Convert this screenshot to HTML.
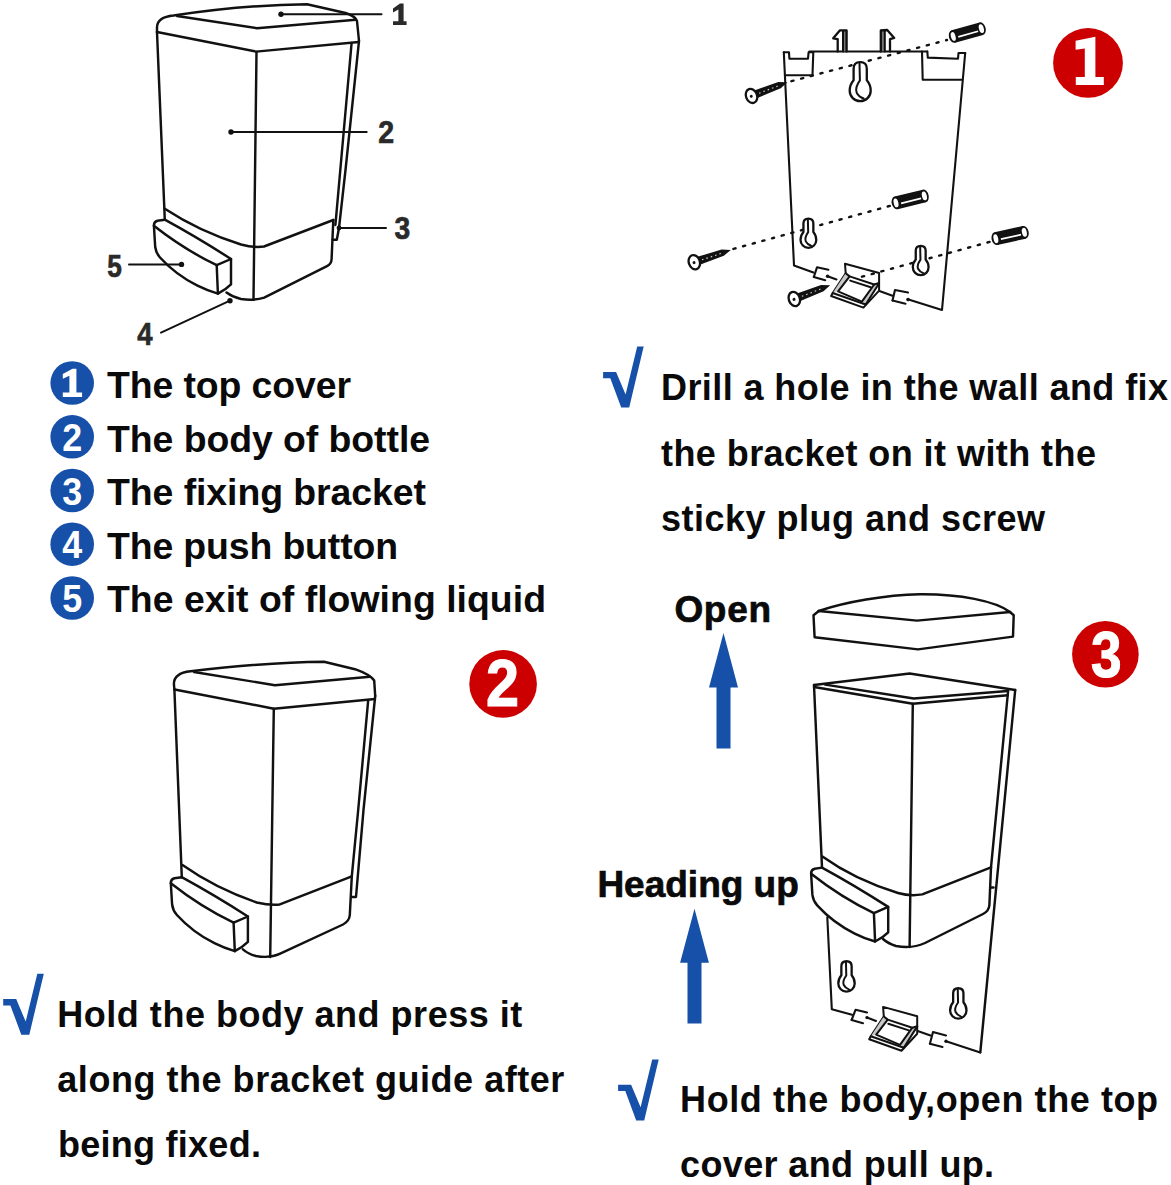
<!DOCTYPE html>
<html><head><meta charset="utf-8">
<style>
html,body{margin:0;padding:0;background:#fff;}
body{width:1171px;height:1185px;overflow:hidden;position:relative;font-family:"Liberation Sans",sans-serif;}
svg{position:absolute;left:0;top:0;}
.t{font-family:"Liberation Sans",sans-serif;font-weight:bold;fill:#0a0a0a;}
.lb{font-family:"Liberation Sans",sans-serif;font-weight:bold;fill:#2a2a2a;stroke:#2a2a2a;stroke-width:0.7;}
.ln{fill:none;stroke:#111;stroke-width:2.45;stroke-linecap:round;stroke-linejoin:round;}
.ln2{fill:none;stroke:#111;stroke-width:2.1;stroke-linecap:round;stroke-linejoin:round;}
.bl{fill:#1650a8;}
.rd{fill:#cc0000;}
</style></head><body>
<svg width="1171" height="1185" viewBox="0 0 1171 1185">
<rect width="1171" height="1185" fill="#fff"/>

<defs>
<g id="kh"><path d="M-6.6,-22 Q-6.6,-28.5 0,-28.5 Q6.6,-28.5 6.6,-22 L6.6,-10.5 Q10.5,-6 10.5,0 A10.5,10.5 0 0 1 -10.5,0 Q-10.5,-6 -6.6,-10.5 Z" fill="#fff" stroke="#111" stroke-width="2.3" stroke-linejoin="round" vector-effect="non-scaling-stroke"/><path vector-effect="non-scaling-stroke" d="M-0.7,-27 L-0.3,-10.3 Q-5.5,-3 -3.5,2 Q-1.5,6 3.5,7.8" fill="none" stroke="#111" stroke-width="2" stroke-linecap="round"/></g>
<g id="screw"><polygon points="3,-4.1 30,-3.4 38.5,0 30,3.4 3,4.1" fill="#111"/><line x1="8" y1="0.2" x2="30" y2="0.2" stroke="#ccc" stroke-width="1.1" stroke-dasharray="1.6 3"/><ellipse cx="0" cy="0" rx="5.5" ry="7.3" fill="#fff" stroke="#111" stroke-width="2.3"/><circle cx="-0.4" cy="0.3" r="1.5" fill="#111"/></g>
<g id="plug"><rect x="-14.5" y="-6.5" width="29" height="13" fill="#111"/><ellipse cx="-14.5" cy="0" rx="4.4" ry="6.5" fill="#111"/><ellipse cx="14.5" cy="0" rx="4.4" ry="6.5" fill="#111"/><ellipse cx="-14.6" cy="0" rx="2.3" ry="4.5" fill="#fff"/><ellipse cx="14.6" cy="0" rx="2.4" ry="4.5" fill="#fff"/><line x1="-9.8" y1="1.6" x2="10.8" y2="1.6" stroke="#fff" stroke-width="1.8"/></g>
<g id="clip" fill="none" stroke="#111" stroke-width="2" stroke-linecap="round" stroke-linejoin="round">
<path d="M883.1,1006.9 L917.2,1016.2 L917.2,1033.8 L901.5,1050.8 L869.2,1039.2 L870.8,1036.2 L883.8,1016.5 Z" fill="#fff"/>
<path d="M883.8,1016.5 L887.7,1019.6 L876.2,1034.6 L870.8,1036.2 Z" fill="#c8c8c8" stroke="none"/>
<path d="M917.2,1026.2 L912.3,1027.7 L900,1044.8 L903.8,1047.7 Z" fill="#c8c8c8" stroke="none"/>
<path d="M883.8,1016.5 L887.7,1019.6 L912.3,1027.7 L917.2,1026.2"/>
<path d="M887.7,1019.6 L876.2,1034.6 L900,1044.8 L912.3,1027.7"/>
<path d="M870.8,1036.2 L903.8,1047.7 L917.2,1026.4"/>
<path d="M888.3,1023.8 L908.8,1030.4"/>
</g>
<g id="btn" fill="none" stroke="#111" stroke-linecap="round" stroke-linejoin="round">
<path d="M164.8,219.7 L157.5,220.8 Q153.9,221.8 153.9,225.5 L155.2,247 Q156,253 160,257.5 Q176,275 197.5,285.7 Q207,290.5 217.9,293.6 L216.7,265.2"/>
<path d="M164.8,219.7 Q197.1,237.3 231,259 L231,284.4 Q226,289.5 217.9,293.6"/>
<path d="M153.9,225.8 Q184,249.5 216.7,265.2 L231,259"/>
</g>
</defs>
<!-- TEXT -->
<g id="text">
<text class="t" x="107" y="397.8" font-size="37.4" textLength="244" lengthAdjust="spacing">The top cover</text>
<text class="t" x="107" y="451.6" font-size="37.4" textLength="323" lengthAdjust="spacing">The body of bottle</text>
<text class="t" x="107" y="505.2" font-size="37.4" textLength="319" lengthAdjust="spacing">The fixing bracket</text>
<text class="t" x="107" y="558.8" font-size="37.4" textLength="291" lengthAdjust="spacing">The push button</text>
<text class="t" x="107" y="612.3" font-size="37.4" textLength="439" lengthAdjust="spacing">The exit of flowing liquid</text>

<text class="t" x="661" y="400" font-size="36" textLength="507" lengthAdjust="spacing">Drill a hole in the wall and fix</text>
<text class="t" x="661" y="465.5" font-size="36" textLength="435" lengthAdjust="spacing">the bracket on it with the</text>
<text class="t" x="661" y="530.5" font-size="36" textLength="384" lengthAdjust="spacing">sticky plug and screw</text>

<text class="t" stroke="#0a0a0a" stroke-width="0.7" x="674.4" y="621.6" font-size="37" textLength="96.6" lengthAdjust="spacing">Open</text>
<text class="t" stroke="#0a0a0a" stroke-width="0.7" x="597.4" y="897" font-size="37" textLength="201.4" lengthAdjust="spacing">Heading up</text>

<text class="t" x="57.3" y="1027.3" font-size="36" textLength="465" lengthAdjust="spacing">Hold the body and press it</text>
<text class="t" x="57.3" y="1092.3" font-size="36" textLength="507" lengthAdjust="spacing">along the bracket guide after</text>
<text class="t" x="57.9" y="1156.8" font-size="36" textLength="203" lengthAdjust="spacing">being fixed.</text>

<text class="t" x="680.1" y="1111.9" font-size="36" textLength="478" lengthAdjust="spacing">Hold the body,open the top</text>
<text class="t" x="680.1" y="1176.9" font-size="36" textLength="314" lengthAdjust="spacing">cover and pull up.</text>
</g>

<!-- BLUE NUMBER BULLETS -->
<g id="bullets">
<circle class="bl" cx="72.2" cy="383" r="21.8"/>
<polygon fill="#fff" points="62.8,374 72.5,368.7 76.4,368.7 76.4,392.4 82.1,392.4 82.1,397.1 62.8,397.1 62.8,392.4 69.4,392.4 69.4,375.7 62.8,378.7"/>
<circle class="bl" cx="72.2" cy="436.8" r="21.8"/>
<text font-size="39" text-anchor="middle" font-family="Liberation Sans" font-weight="bold" fill="#fff" transform="translate(72.2 450.8) scale(0.92 1)">2</text>
<circle class="bl" cx="72.2" cy="490.5" r="21.8"/>
<text font-size="39" text-anchor="middle" font-family="Liberation Sans" font-weight="bold" fill="#fff" transform="translate(72.2 504.5) scale(0.92 1)">3</text>
<circle class="bl" cx="72.2" cy="544.2" r="21.8"/>
<text font-size="39" text-anchor="middle" font-family="Liberation Sans" font-weight="bold" fill="#fff" transform="translate(72.2 558.2) scale(0.92 1)">4</text>
<circle class="bl" cx="72.2" cy="598" r="21.8"/>
<text font-size="39" text-anchor="middle" font-family="Liberation Sans" font-weight="bold" fill="#fff" transform="translate(72.2 612) scale(0.92 1)">5</text>
</g>

<!-- RED CIRCLES -->
<g id="reds">
<circle class="rd" cx="1088" cy="62.9" r="34.9"/>
<polygon fill="#fff" points="1075.6,40.8 1095.4,36.8 1095.4,76.9 1103.8,76.9 1103.8,85 1075.8,85 1075.8,76.9 1084.8,76.9 1084.8,48.6 1075.6,49.7"/>
<circle class="rd" cx="503.1" cy="683.9" r="33.8"/>
<text x="502.6" y="706.2" font-size="66" text-anchor="middle" font-family="Liberation Sans" font-weight="bold" fill="#fff" stroke="#fff" stroke-width="1.2" transform="translate(502.6 0) scale(0.9 1) translate(-502.6 0)">2</text>
<circle class="rd" cx="1105.4" cy="654.3" r="33.3"/>
<text x="1106.3" y="676.6" font-size="64" text-anchor="middle" font-family="Liberation Sans" font-weight="bold" fill="#fff" stroke="#fff" stroke-width="1.2" transform="translate(1106.3 0) scale(0.86 1) translate(-1106.3 0)">3</text>
</g>

<!-- CHECKS + ARROWS -->
<g id="marks">
<polygon class="bl" points="603.1,372.0 616.1,372.0 625.6,394.5 637.2,346.6 643.7,346.6 629.2,407.6 621.2,407.6 610.3,378.3 603.1,378.3"/>
<polygon class="bl" points="3.2,999.1 16.2,999.1 25.7,1021.6 37.3,973.7 43.8,973.7 29.3,1034.7 21.3,1034.7 10.4,1005.4 3.2,1005.4"/>
<polygon class="bl" points="618.1,1084.8 631.1,1084.8 640.6,1107.3 652.2,1059.4 658.7,1059.4 644.2,1120.4 636.2,1120.4 625.3,1091.1 618.1,1091.1"/>
<polygon class="bl" points="723.5,633.1 738.0,687.5 730.5,687.5 730.5,748.5 716.5,748.5 716.5,687.5 709.0,687.5"/>
<polygon class="bl" points="694.5,908.7 708.9,962.8 701.5,962.8 701.5,1023.5 687.5,1023.5 687.5,962.8 680.1,962.8"/>
</g>

<!-- DRAWING A: top-left dispenser -->
<g id="drawA">
<g class="ln">
<!-- lid -->
<path d="M157,32 L157,27 Q157.5,17 173.5,15.5 C220,8.5 270,4.6 307,4.3 L345.6,13 Q355,16 357,21 L359,41"/>
<path d="M177,16 L257,28.2 L355.8,19.7"/>
<path d="M157,32 L256,51.6 L358.8,42"/>
<!-- body -->
<path d="M157,32 L164.8,219.7"/>
<path d="M256.5,52 L253.5,299.6"/>
<path d="M359,41 L345.5,170 L339,228 L336.8,239.7 L332.5,239.7"/>
<path d="M351.6,43 L335.4,225"/>
<!-- seam -->
<path d="M164.4,208.6 Q200,232 241,244.5 Q254,248 264,246.5 L333.3,220"/>
<!-- base right + bottom -->
<path d="M333.3,220 L331.6,259 Q331.4,264 327,266.2 L264.2,297.6 Q254,301 241,299 Q232.5,297 226.5,292.5"/>
</g>
<use href="#btn" stroke-width="2.45"/>
<!-- leaders -->
<g stroke="#111" stroke-width="2" stroke-linecap="round" fill="#111">
<line x1="281" y1="14.3" x2="381.5" y2="14.3"/><circle cx="281" cy="14.3" r="2.7" stroke="none"/>
<line x1="231" y1="132" x2="366.7" y2="132"/><circle cx="231" cy="132" r="2.7" stroke="none"/>
<line x1="339" y1="228" x2="386" y2="228"/><circle cx="339" cy="228" r="2.4" stroke="none"/>
<line x1="129" y1="264.4" x2="181.5" y2="264.4"/><circle cx="181.5" cy="264.4" r="2.7" stroke="none"/>
<line x1="161" y1="332.6" x2="230" y2="300.7"/><circle cx="230" cy="300.7" r="2.7" stroke="none"/>
</g>
<polygon fill="#2a2a2a" points="393,8.6 400,3.6 403.6,3.6 403.6,21.3 406.6,21.3 406.6,25 393,25 393,21.3 398.4,21.3 398.4,9.6 393,12.6"/>
<text class="lb" font-size="31" text-anchor="middle" transform="translate(386.2 143.2) scale(0.92 1)">2</text>
<text class="lb" font-size="32" text-anchor="middle" transform="translate(402.4 239.4) scale(0.88 1)">3</text>
<text class="lb" font-size="32" text-anchor="middle" transform="translate(145 344.5) scale(0.86 1)">4</text>
<text class="lb" font-size="32" text-anchor="middle" transform="translate(114.6 276.6) scale(0.82 1)">5</text>
</g>

<!-- DRAWING B: bracket -->
<g id="drawB">
<g class="ln2">
<!-- outline -->
<path d="M783.8,52.3 L794,265.5 L813.4,272.4"/>
<path d="M965.2,53 L955.6,160 L942,310 L908.5,299.6"/>
<!-- top left notch -->
<path d="M783.8,52.3 L789,52.3 L789.4,58.7 L808,58.7 L808.6,52.3 L813.3,52.3 L812.5,75.3 L785,75.3"/>
<path d="M809.4,51.5 L927.3,51.5"/>
<!-- top right notch -->
<path d="M922,51.5 L922.7,79.7 L961.9,79.7"/>
<path d="M927.3,51.5 L927.8,57.6 L958,58.7 L958.5,53 L965.2,53"/>
<!-- hooks -->
<rect x="843" y="30.3" width="3.6" height="21" fill="#777" stroke="none"/>
<rect x="880.8" y="30.3" width="3.8" height="21" fill="#777" stroke="none"/>
<path d="M837.7,51.5 L837.7,39.2 L833.2,38.3 L839.8,30.4 L846.6,30.4 L846.6,51.5" stroke-width="2.3"/>
<path d="M843,31 L843,51.5" stroke-width="2"/>
<path d="M890,51.5 L890,39.2 L894.2,37.9 L887.2,30 L880.8,30.4 L880.8,51.5" stroke-width="2.3"/>
<path d="M884.8,31 L884.8,51.5" stroke-width="2"/>
<!-- bottom edge pieces -->
<path d="M827.6,276.2 L836.5,279.5"/>
<path d="M878.7,290.8 L892.5,295.7"/>
<!-- small rects -->
<path d="M813.8,277 L817,267.3 L828.4,269.8"/>
<path d="M813.8,277 L825.2,280.3"/>
<path d="M892.5,300.6 L895,290 L908,292.5"/>
<path d="M892.5,300.6 L905.5,303.8"/>
</g>
<circle cx="827.6" cy="276.2" r="1.8" fill="#111"/><circle cx="908" cy="299.6" r="1.8" fill="#111"/>
<!-- clip -->
<use href="#clip" transform="translate(-38.1 -743.2)"/>
<!-- dashed lines -->
<g stroke="#111" stroke-width="2.4" stroke-dasharray="2.2 7.8" stroke-linecap="round" fill="none">
<line x1="791.4" y1="81.2" x2="947" y2="40"/>
<line x1="733.4" y1="248.9" x2="891" y2="205.6"/>
<line x1="862" y1="276.7" x2="991" y2="241.5"/>
</g>
<use href="#kh" transform="translate(860.2 90.7)"/>
<use href="#kh" transform="translate(808.4 239.9) scale(0.75)"/>
<use href="#kh" transform="translate(920.7 267.3) scale(0.75)"/>
<use href="#plug" transform="translate(967.3 32.6) rotate(-15.5)"/>
<use href="#plug" transform="translate(910.2 199.4) rotate(-13.8)"/>
<use href="#plug" transform="translate(1010.1 235.5) rotate(-12.7)"/>
<use href="#screw" transform="translate(751.5 95.9) rotate(-20.9)"/>
<use href="#screw" transform="translate(694.3 262.2) rotate(-18.6)"/>
<use href="#screw" transform="translate(794.3 299) rotate(-21.1)"/>
</g>

<!-- DRAWING C: bottom-left dispenser -->
<g id="drawC">
<g class="ln">
<path d="M174.4,689.5 L173.9,684 Q174,673 190.6,671.3 C240,665.5 290,662 324,661.7 L355,669.2 Q370,674.5 374.2,680.5 L375.2,696"/>
<path d="M194,672 L274.9,685.2 L369.9,676.7"/>
<path d="M174.6,689.5 L273.8,708.7 L375,699"/>
<path d="M174.4,689.5 L181.8,877.2"/>
<path d="M273.8,708.7 L270.2,957"/>
<path d="M375.2,696 L363.5,810 L356,897 L351.8,897"/>
<path d="M368.2,700.2 L358.2,810 L351.8,876.4"/>
<path d="M182.5,865 Q215,888 256.7,902.5 Q269.6,905.5 279.2,904.6 L351.8,876.4"/>
<path d="M351.8,876.4 L349.8,915 Q349.4,921 343,924.5 L280.2,953.7 Q270,958.5 256,956 Q248,954 242.9,949.4"/>
<use href="#btn" transform="translate(16.9 657.5)"/>
</g>
</g>

<!-- DRAWING D: bottom-right -->
<g id="drawD">
<g class="ln" stroke-width="3">
<path d="M818.8,611 C845,602 885,595 920,594.3 C960,594 995,601 1010,612"/>
<path d="M818.8,611 L917,620.6 L1010,612"/>
<path d="M818.8,611 L813.5,615.2 L814.6,637.2 L918,649.4 L1013,636.6 L1013.7,615.2 L1010,612"/>
</g>
<g class="ln" stroke-width="2.4">
<path d="M814,685 L909.6,673.5 L1015.2,690"/>
<path d="M825.2,684.6 L913.8,698.5 L1007.8,691"/>
<path d="M814,687 L912.8,703.8 L1007.8,695.3"/>
<path d="M814,685 L822,867.6"/>
<path d="M912.8,703.8 L909.6,947"/>
<path d="M1008.2,690 L991,867.4"/>
<path d="M1015.2,690 L980.3,1052.4"/>
<path d="M822.4,856.6 Q855,880 898,893 Q910,896.5 922.3,894.4 L991,867.4"/>
<path d="M991,867.4 L989.4,905 Q989,911 983,914 L925,943 Q912,949 896,946 Q888,943.5 883,939"/>
<path d="M990.3,887.5 L993.5,887.5"/>
<use href="#btn" transform="translate(657.2 647.9)"/>
</g>
<g class="ln2" stroke-width="1.8">
<path d="M827.3,917.4 L831.8,1009.2 L852,1014.8"/>
<path d="M867,1017.6 L876,1021"/>
<path d="M916.9,1030.8 L930.5,1035.5"/>
<path d="M946,1041.2 L980.3,1052.4"/>
<path d="M851.6,1020 L855.6,1009.7 L867,1012.4"/><path d="M851.6,1020 L863,1023.2"/>
<path d="M929.9,1043.7 L933,1032 L946,1035.4"/><path d="M929.9,1043.7 L942.5,1047"/>
</g>
<circle cx="867" cy="1017.6" r="1.7" fill="#111"/><circle cx="946" cy="1041.2" r="1.7" fill="#111"/>
<use href="#kh" transform="translate(846.5 983.5) scale(0.78)"/>
<use href="#kh" transform="translate(958.3 1010.5) scale(0.78)"/>
<use href="#clip"/>
</g>
</svg>
</body></html>
